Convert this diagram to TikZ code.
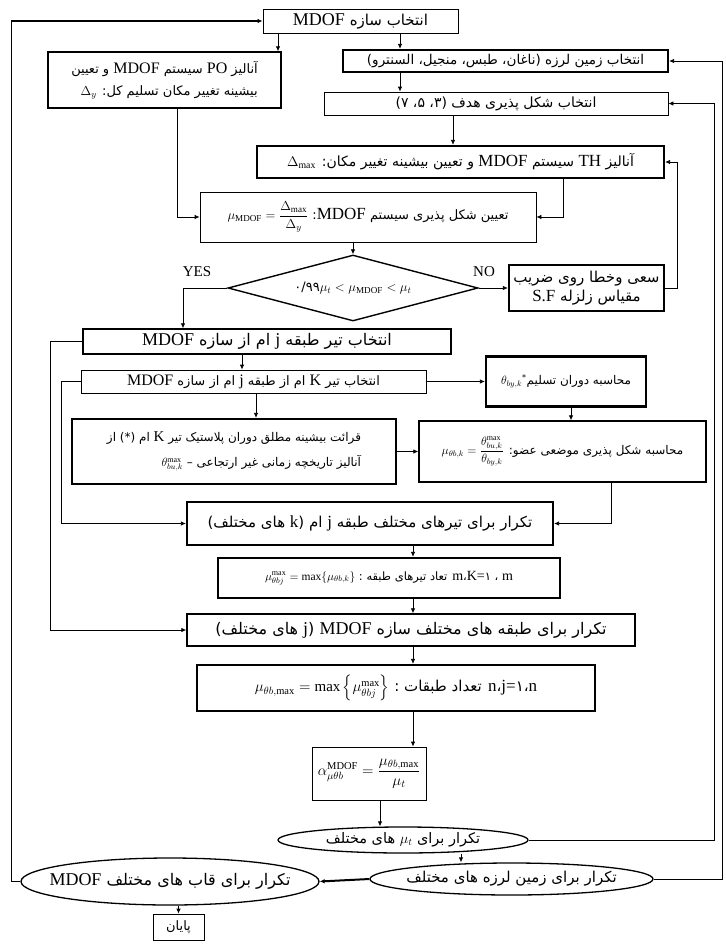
\RequirePackage{fix-cm}
\documentclass[tikz,border=0pt]{standalone}
\usepackage{amsmath}
\usepackage{fontspec}
\setmainfont{Liberation Serif}
\newfontfamily\ar[Script=Arabic]{DejaVu Sans}
\TeXXeTstate=1
\usetikzlibrary{arrows.meta,shapes.geometric}
\def\LTsize{13}
\newcommand\FS[3]{\ar\fontsize{#1}{#3}\selectfont\def\LTsize{#2}}
\newcommand\LT[1]{{\rmfamily\fontsize{\LTsize}{\LTsize}\selectfont #1}}
\newcommand\RL[1]{\beginR #1\endR}
\tikzset{
  thinbox/.style={draw, rectangle, inner sep=1pt, align=center, line width=0.8pt},
  midbox/.style={thinbox, line width=1.4pt},
  thickbox/.style={thinbox, line width=2.2pt},
  ell/.style={draw, ellipse, inner sep=0pt, line width=1.3pt},
  elltext/.style={inner sep=0pt},
  arr/.style={-{Latex[length=5pt,width=4.5pt]}, line width=0.8pt},
  lbl/.style={font=\rmfamily\fontsize{15}{17}\selectfont, inner sep=0pt}
}
\begin{document}
\begin{tikzpicture}[x=1pt,y=-1pt]
\useasboundingbox (0,0) rectangle (726,946);
% nodes
\node[thinbox, minimum width=195pt, minimum height=24pt, font=\FS{15}{18}{18}] (top) at (360.5,21) {\RL{انتخاب سازه \LT{MDOF}}};
\node[midbox, minimum width=233pt, minimum height=56pt, align=right, font=\FS{13}{16}{22}] (po) at (164.5,80)
  {\RL{آنالیز \LT{PO} سیستم \LT{MDOF} و تعیین}\\ \RL{بیشینه تغییر مکان تسلیم کل: \mbox{$\Delta_y$}}};
\node[thickbox, minimum width=325pt, minimum height=22pt, font=\FS{13.5}{16}{16}] (eq) at (505.5,61) {\RL{انتخاب زمین لرزه (ناغان، طبس، منجیل، السنترو)}};
\node[thinbox, minimum width=344pt, minimum height=23pt, font=\FS{14}{16}{16}] (hdf) at (496,103.5) {\RL{انتخاب شکل پذیری هدف (۳، ۵، ۷)}};
\node[thickbox, minimum width=407pt, minimum height=32pt, font=\FS{14}{17}{17}] (th) at (460.5,162) {\RL{آنالیز \LT{TH} سیستم \LT{MDOF} و تعیین بیشینه تغییر مکان: \mbox{$\Delta_{\max}$}}};
\node[thinbox, minimum width=336pt, minimum height=50pt, font=\FS{13}{17}{17}] (mu) at (368,217) {\RL{تعیین شکل پذیری سیستم \LT{MDOF}: \mbox{$\mu_{\mathrm{MDOF}}=\dfrac{\Delta_{\max}}{\Delta_y}$}}};
\node[draw, diamond, aspect=3.8, line width=1.4pt, inner sep=0pt, minimum width=250pt, minimum height=66pt, font=\FS{13}{13}{13}] (dia) at (353,288)
  {۰/۹۹\mbox{$\mu_t<\mu_{\mathrm{MDOF}}<\mu_t$}};
\node[thickbox, minimum width=155pt, minimum height=46pt, font=\FS{15}{17}{19}] (sf) at (586.5,288)
  {\RL{سعی وخطا روی ضریب}\\ \RL{مقیاس زلزله \LT{S.F}}};
\node[lbl] (yes) at (197,272) {YES};
\node[lbl] (no) at (484,272) {NO};
\node[midbox, minimum width=368pt, minimum height=25pt, font=\FS{16}{18}{18}] (jsel) at (267,341.5) {\RL{انتخاب تیر طبقه \LT{j} ام از سازه \LT{MDOF}}};
\node[thinbox, minimum width=345pt, minimum height=23pt, font=\FS{13}{16}{16}] (ksel) at (253.5,381.5) {\RL{انتخاب تیر \LT{K} ام از طبقه \LT{j} ام از سازه \LT{MDOF}}};
\node[thickbox, minimum width=160pt, minimum height=50pt, font=\FS{12}{14}{14}] (rot) at (566,381.5) {\RL{محاسبه دوران تسلیم\textsuperscript{*}\mbox{$\theta_{by,k}$}}};
\node[thickbox, minimum width=324pt, minimum height=65pt, align=right, font=\FS{12}{15}{25}] (read) at (234,451.5)
  {\RL{قرائت بیشینه مطلق دوران پلاستیک تیر \LT{K} ام (*) از}\\ \RL{آنالیز تاریخچه زمانی غیر ارتجاعی – \mbox{$\theta^{\max}_{bu,k}$}}};
\node[midbox, minimum width=287pt, minimum height=61pt, font=\FS{12}{14}{14}] (duct) at (562.5,451.5)
  {\RL{محاسبه شکل پذیری موضعی عضو: \mbox{$\mu_{\theta b,k}=\dfrac{\theta^{\max}_{bu,k}}{\theta_{by,k}}$}}};
\node[thickbox, minimum width=366pt, minimum height=43pt, font=\FS{15}{17}{17}] (rep1) at (370,523.5) {\RL{تکرار برای تیرهای مختلف طبقه \LT{j} ام (\LT{k} های مختلف)}};
\node[thickbox, minimum width=342pt, minimum height=40pt, font=\FS{11.5}{14}{14}] (mmax) at (389,578)
  {\mbox{$\mu^{\max}_{\theta bj}=\max\{\mu_{\theta b,k}\}$} \RL{تعاد تیرهای طبقه :} \LT{m}،\LT{K=}۱ ، \LT{m}};
\node[midbox, minimum width=448pt, minimum height=32pt, font=\FS{16}{18}{18}] (rep2) at (411,630) {\RL{تکرار برای طبقه های مختلف سازه \LT{MDOF} (\LT{j} های مختلف)}};
\node[thickbox, minimum width=398pt, minimum height=46pt, font=\FS{15}{17}{17}] (mbmax) at (396,688)
  {\mbox{$\mu_{\theta b,\max}=\max\left\{\mu^{\max}_{\theta bj}\right\}$} \RL{تعداد طبقات :} \LT{n}،\LT{j=}۱\kern0pt،\LT{n}};
\node[thinbox, minimum width=114pt, minimum height=53pt, font=\FS{15}{15}{15}] (alpha) at (369,773.5)
  {\mbox{$\alpha^{\mathrm{MDOF}}_{\mu\theta b}=\dfrac{\mu_{\theta b,\max}}{\mu_t}$}};
\node[ell, minimum width=250pt, minimum height=26pt] (mue) at (403,840) {};
\node[elltext, font=\FS{14.5}{15}{15}] (muet) at (mue.center) {\RL{تکرار برای \mbox{$\mu_t$} های مختلف}};
\node[ell, minimum width=283pt, minimum height=32pt] (eqe) at (511.5,879) {};
\node[elltext, font=\FS{15}{15}{15}] (eqet) at (eqe.center) {\RL{تکرار برای زمین لرزه های مختلف}};
\node[ell, minimum width=298pt, minimum height=47pt] (fre) at (170,881.5) {};
\node[elltext, font=\FS{16}{18}{18}] (fret) at (fre.center) {\RL{تکرار برای قاب های مختلف \LT{MDOF}}};
\node[thinbox, minimum width=51pt, minimum height=26pt, font=\FS{13}{13}{13}] (end) at (178.5,927) {\RL{پایان}};
% x positions of vertical connectors
\coordinate (xa) at (278,0);
\coordinate (xb) at (400,0);
\coordinate (xc) at (453,0);
\coordinate (xd) at (563,0);
\coordinate (xe) at (177,0);
\coordinate (xg) at (183,0);
\coordinate (xh) at (242,0);
\coordinate (xi) at (256,0);
\coordinate (xj) at (571,0);
\coordinate (xk) at (611,0);
\coordinate (xl) at (413,0);
\coordinate (xm) at (380,0);
\coordinate (xn) at (461,0);
% connectors
\draw[arr] (top.south -| xa) -- (po.north -| xa);
\draw[arr] (top.south -| xb) -- (eq.north -| xb);
\draw[arr] (eq.south -| xb) -- (hdf.north -| xb);
\draw[arr] (hdf.south -| xc) -- (th.north -| xc);
\draw[arr] (th.south -| xd) |- (mu.east);
\draw[arr] (po.south -| xe) |- (mu.west);
\draw[arr] (mu.south -| dia.north) -- (dia.north);
\draw[arr] (dia.east) -- (sf.west);
\draw[arr] (sf.east) -- ++(12,0) |- (th.east);
\draw[arr] (dia.west) -| (jsel.north -| xg);
\draw[arr] (jsel.south -| xh) -- (ksel.north -| xh);
\draw[arr] (ksel.east) -- (rot.west |- ksel.east);
\draw[arr] (ksel.south -| xi) -- (read.north -| xi);
\draw[arr] (rot.south -| xj) -- (duct.north -| xj);
\draw[arr] (read.east) -- (duct.west |- read.east);
\draw[arr] (duct.south -| xk) |- (rep1.east);
\draw[arr] (ksel.west) -- ++(-19,0) |- (rep1.west);
\draw[arr] (jsel.west) -- ++(-32,0) |- (rep2.west);
\draw[arr] (rep1.south -| xl) -- (mmax.north -| xl);
\draw[arr] (mmax.south -| xl) -- (rep2.north -| xl);
\draw[arr] (rep2.south -| xl) -- (mbmax.north -| xl);
\draw[arr] (mbmax.south -| xl) -- (alpha.north -| xl);
\draw[arr] (alpha.south -| xm) -- (mue.north -| xm);
\draw[arr] (mue.south -| xn) -- (eqe.north -| xn);
\draw[arr, line width=2pt] (eqe.west) -- (fre.east);
\draw[arr] (end.north |- fre.south) -- (end.north);
\draw[arr, line width=1.2pt] (fre.west) -- ++(-9,0) |- (top.west);
\draw[arr] (mue.east) -- ++(186,0) |- (hdf.east);
\draw[arr] (eqe.east) -- ++(69,0) |- (eq.east);
\end{tikzpicture}
\end{document}
